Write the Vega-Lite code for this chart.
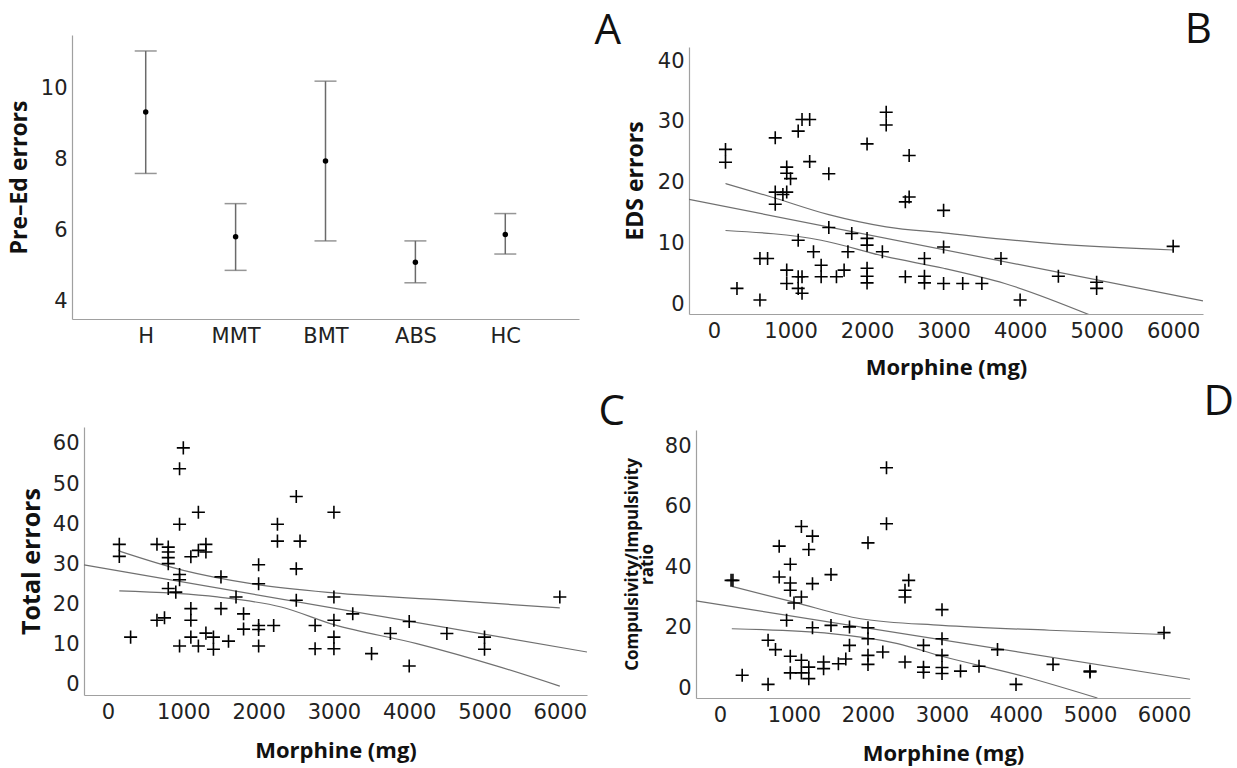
{
  "$schema": "https://vega.github.io/schema/vega-lite/v6.json",
  "padding": {"left": 8, "top": 9, "right": 5, "bottom": 5},
  "background": "white",
  "columns": 2,
  "bounds": "flush",
  "spacing": {"row": 108, "column": 102},
  "config": {
    "view": {"stroke": null},
    "axis": {
      "domainColor": "#a0a0a0", "domainWidth": 1.2, "ticks": false, "grid": false,
      "labelFont": "DejaVu Sans", "labelFontSize": 21, "labelColor": "#222", "labelPadding": 5,
      "titleFont": "Open Sans", "titleFontWeight": "bold", "titleFontSize": 23, "titleColor": "#111"
    },
    "title": {"font": "Open Sans", "fontSize": 42, "fontWeight": "normal", "color": "#111", "anchor": "end", "frame": "group", "baseline": "alphabetic", "offset": 0}
  },
  "datasets": {
    "groups": [
      {"group": "H", "mean": 9.33, "lower": 7.6, "upper": 11.05},
      {"group": "MMT", "mean": 5.82, "lower": 4.87, "upper": 6.75},
      {"group": "BMT", "mean": 7.95, "lower": 5.7, "upper": 10.2},
      {"group": "ABS", "mean": 5.1, "lower": 4.52, "upper": 5.7},
      {"group": "HC", "mean": 5.88, "lower": 5.33, "upper": 6.47}
    ],
    "eds": [
      {"morphine": 150, "value": 25.5}, {"morphine": 150, "value": 23.4}, {"morphine": 800, "value": 27.4},
      {"morphine": 1100, "value": 28.5}, {"morphine": 1150, "value": 30.4}, {"morphine": 1250, "value": 30.4},
      {"morphine": 2250, "value": 31.6}, {"morphine": 2250, "value": 29.5}, {"morphine": 2000, "value": 26.4},
      {"morphine": 1250, "value": 23.5}, {"morphine": 2550, "value": 24.5}, {"morphine": 1500, "value": 21.5},
      {"morphine": 950, "value": 22.6}, {"morphine": 950, "value": 21.6}, {"morphine": 1000, "value": 20.7},
      {"morphine": 800, "value": 18.5}, {"morphine": 900, "value": 18.1}, {"morphine": 950, "value": 18.5},
      {"morphine": 800, "value": 16.5}, {"morphine": 2550, "value": 17.7}, {"morphine": 2500, "value": 16.9},
      {"morphine": 3000, "value": 15.5}, {"morphine": 1500, "value": 12.7}, {"morphine": 1800, "value": 11.7},
      {"morphine": 2000, "value": 10.9}, {"morphine": 2000, "value": 9.8}, {"morphine": 2200, "value": 8.7},
      {"morphine": 1100, "value": 10.6}, {"morphine": 1300, "value": 8.7}, {"morphine": 1750, "value": 8.7},
      {"morphine": 3000, "value": 9.5}, {"morphine": 2750, "value": 7.6}, {"morphine": 600, "value": 7.6},
      {"morphine": 700, "value": 7.6}, {"morphine": 950, "value": 5.7}, {"morphine": 950, "value": 3.5},
      {"morphine": 1100, "value": 4.6}, {"morphine": 1150, "value": 4.6}, {"morphine": 1100, "value": 2.7},
      {"morphine": 1150, "value": 1.9}, {"morphine": 1400, "value": 6.5}, {"morphine": 1400, "value": 4.6},
      {"morphine": 1600, "value": 4.6}, {"morphine": 1700, "value": 5.7}, {"morphine": 2000, "value": 6.0},
      {"morphine": 2000, "value": 4.7}, {"morphine": 2000, "value": 3.6}, {"morphine": 2500, "value": 4.6},
      {"morphine": 2750, "value": 4.7}, {"morphine": 2750, "value": 3.6}, {"morphine": 3000, "value": 3.5},
      {"morphine": 300, "value": 2.7}, {"morphine": 600, "value": 0.8}, {"morphine": 3250, "value": 3.5},
      {"morphine": 3500, "value": 3.5}, {"morphine": 3750, "value": 7.6}, {"morphine": 4000, "value": 0.8},
      {"morphine": 4500, "value": 4.7}, {"morphine": 5000, "value": 3.7}, {"morphine": 5000, "value": 2.7},
      {"morphine": 6000, "value": 9.6}
    ],
    "eds_fit": [
      {"line": "fit", "morphine": -327, "value": 17.3}, {"line": "fit", "morphine": 6390, "value": 0.65},
      {"line": "upper", "morphine": 150, "value": 19.9}, {"line": "upper", "morphine": 750, "value": 17.7},
      {"line": "upper", "morphine": 1500, "value": 14.8}, {"line": "upper", "morphine": 2250, "value": 12.8},
      {"line": "upper", "morphine": 3000, "value": 11.8}, {"line": "upper", "morphine": 4450, "value": 10.0},
      {"line": "upper", "morphine": 6000, "value": 9.0},
      {"line": "lower", "morphine": 150, "value": 12.2}, {"line": "lower", "morphine": 1400, "value": 10.6},
      {"line": "lower", "morphine": 2250, "value": 7.9}, {"line": "lower", "morphine": 3000, "value": 6.0},
      {"line": "lower", "morphine": 3800, "value": 3.5}, {"line": "lower", "morphine": 4900, "value": -1.6}
    ],
    "total": [
      {"morphine": 1000, "value": 59.0}, {"morphine": 950, "value": 53.8}, {"morphine": 1200, "value": 43.0},
      {"morphine": 950, "value": 40.0}, {"morphine": 150, "value": 35.0}, {"morphine": 150, "value": 32.0},
      {"morphine": 650, "value": 35.0}, {"morphine": 800, "value": 34.3}, {"morphine": 800, "value": 33.1},
      {"morphine": 800, "value": 31.7}, {"morphine": 800, "value": 30.2}, {"morphine": 1100, "value": 31.9},
      {"morphine": 1200, "value": 33.5}, {"morphine": 1300, "value": 35.0}, {"morphine": 1300, "value": 33.1},
      {"morphine": 950, "value": 27.5}, {"morphine": 950, "value": 26.2}, {"morphine": 800, "value": 24.0},
      {"morphine": 900, "value": 23.1}, {"morphine": 1500, "value": 26.9}, {"morphine": 2000, "value": 29.9},
      {"morphine": 2000, "value": 25.2}, {"morphine": 2250, "value": 40.0}, {"morphine": 2250, "value": 35.8},
      {"morphine": 2500, "value": 46.9}, {"morphine": 2550, "value": 35.8}, {"morphine": 2500, "value": 28.9},
      {"morphine": 3000, "value": 43.0}, {"morphine": 2500, "value": 21.1}, {"morphine": 3000, "value": 21.9},
      {"morphine": 1700, "value": 21.9}, {"morphine": 1100, "value": 19.0}, {"morphine": 1500, "value": 19.0},
      {"morphine": 1800, "value": 17.7}, {"morphine": 650, "value": 16.1}, {"morphine": 750, "value": 16.7},
      {"morphine": 1100, "value": 16.1}, {"morphine": 2000, "value": 14.8}, {"morphine": 2000, "value": 13.8},
      {"morphine": 2200, "value": 14.8}, {"morphine": 1800, "value": 13.9}, {"morphine": 2750, "value": 14.8},
      {"morphine": 3000, "value": 16.1}, {"morphine": 300, "value": 11.9}, {"morphine": 950, "value": 9.7},
      {"morphine": 1100, "value": 11.9}, {"morphine": 1200, "value": 9.7}, {"morphine": 1300, "value": 12.9},
      {"morphine": 1400, "value": 11.9}, {"morphine": 1400, "value": 8.9}, {"morphine": 1600, "value": 10.9},
      {"morphine": 2000, "value": 9.7}, {"morphine": 2750, "value": 9.0}, {"morphine": 3000, "value": 11.9},
      {"morphine": 3000, "value": 9.0}, {"morphine": 3250, "value": 17.7}, {"morphine": 3500, "value": 7.8},
      {"morphine": 3750, "value": 12.8}, {"morphine": 4000, "value": 15.8}, {"morphine": 4000, "value": 4.7},
      {"morphine": 4500, "value": 12.8}, {"morphine": 5000, "value": 11.9}, {"morphine": 5000, "value": 8.9},
      {"morphine": 6000, "value": 21.9}
    ],
    "total_fit": [
      {"line": "fit", "morphine": -319, "value": 29.9}, {"line": "fit", "morphine": 6361, "value": 8.2},
      {"line": "upper", "morphine": 150, "value": 33.3}, {"line": "upper", "morphine": 1000, "value": 28.5},
      {"line": "upper", "morphine": 1900, "value": 25.2}, {"line": "upper", "morphine": 3000, "value": 22.9},
      {"line": "upper", "morphine": 4500, "value": 21.1}, {"line": "upper", "morphine": 6000, "value": 19.2},
      {"line": "lower", "morphine": 150, "value": 23.4}, {"line": "lower", "morphine": 1450, "value": 21.9},
      {"line": "lower", "morphine": 2300, "value": 19.4}, {"line": "lower", "morphine": 3000, "value": 15.0},
      {"line": "lower", "morphine": 4100, "value": 10.3}, {"line": "lower", "morphine": 5200, "value": 4.5},
      {"line": "lower", "morphine": 6000, "value": -0.3}
    ],
    "ratio": [
      {"morphine": 2250, "value": 72.8}, {"morphine": 2250, "value": 54.3}, {"morphine": 2000, "value": 48.0},
      {"morphine": 1100, "value": 53.4}, {"morphine": 1250, "value": 50.2}, {"morphine": 1200, "value": 45.8},
      {"morphine": 800, "value": 46.9}, {"morphine": 950, "value": 40.9}, {"morphine": 800, "value": 36.7},
      {"morphine": 950, "value": 34.7}, {"morphine": 950, "value": 32.3}, {"morphine": 1250, "value": 34.5},
      {"morphine": 1500, "value": 37.5}, {"morphine": 150, "value": 35.6}, {"morphine": 175, "value": 35.6},
      {"morphine": 1100, "value": 30.1}, {"morphine": 1000, "value": 28.1}, {"morphine": 2550, "value": 35.6},
      {"morphine": 2500, "value": 32.3}, {"morphine": 2500, "value": 30.1}, {"morphine": 3000, "value": 25.9},
      {"morphine": 900, "value": 22.4}, {"morphine": 1250, "value": 19.9}, {"morphine": 1500, "value": 20.7},
      {"morphine": 1750, "value": 20.2}, {"morphine": 2000, "value": 19.9}, {"morphine": 2000, "value": 16.3},
      {"morphine": 1750, "value": 14.1}, {"morphine": 2200, "value": 11.9}, {"morphine": 2000, "value": 10.8},
      {"morphine": 2000, "value": 7.8}, {"morphine": 2750, "value": 14.1}, {"morphine": 3000, "value": 16.3},
      {"morphine": 3000, "value": 10.8}, {"morphine": 650, "value": 15.8}, {"morphine": 750, "value": 12.7},
      {"morphine": 950, "value": 10.5}, {"morphine": 1100, "value": 9.2}, {"morphine": 1400, "value": 8.6},
      {"morphine": 1600, "value": 8.0}, {"morphine": 1700, "value": 9.6}, {"morphine": 1200, "value": 6.9},
      {"morphine": 950, "value": 5.0}, {"morphine": 1100, "value": 5.0}, {"morphine": 1200, "value": 3.1},
      {"morphine": 1400, "value": 6.4}, {"morphine": 2500, "value": 8.6}, {"morphine": 2750, "value": 6.9},
      {"morphine": 2750, "value": 5.2}, {"morphine": 3000, "value": 6.8}, {"morphine": 3000, "value": 4.8},
      {"morphine": 300, "value": 4.2}, {"morphine": 650, "value": 1.2}, {"morphine": 3250, "value": 5.6},
      {"morphine": 3500, "value": 7.2}, {"morphine": 3750, "value": 12.7}, {"morphine": 4000, "value": 1.2},
      {"morphine": 4500, "value": 7.8}, {"morphine": 5000, "value": 5.3}, {"morphine": 5000, "value": 5.6},
      {"morphine": 6000, "value": 18.3}
    ],
    "ratio_fit": [
      {"line": "fit", "morphine": -324, "value": 28.8}, {"line": "fit", "morphine": 6351, "value": 2.9},
      {"line": "upper", "morphine": 160, "value": 33.6}, {"line": "upper", "morphine": 1000, "value": 28.4},
      {"line": "upper", "morphine": 1900, "value": 22.9}, {"line": "upper", "morphine": 3000, "value": 20.7},
      {"line": "upper", "morphine": 4450, "value": 19.1}, {"line": "upper", "morphine": 6000, "value": 17.7},
      {"line": "lower", "morphine": 160, "value": 19.6}, {"line": "lower", "morphine": 1500, "value": 18.0},
      {"line": "lower", "morphine": 2400, "value": 14.7}, {"line": "lower", "morphine": 3000, "value": 10.5},
      {"line": "lower", "morphine": 4100, "value": 3.9}, {"line": "lower", "morphine": 5100, "value": -3.3}
    ]
  },
  "concat": [
    {
      "width": 507, "height": 284,
      "title": {"text": "A", "dx": 42, "dy": 22},
      "data": {"name": "groups"},
      "encoding": {
        "x": {"field": "group", "type": "nominal", "sort": null,
              "scale": {"type": "point", "padding": 0.82},
              "axis": {"title": null, "labelAngle": 0, "labelPadding": 6}}
      },
      "layer": [
        {"mark": {"type": "rule", "color": "#6a6a6a", "strokeWidth": 1.5},
         "encoding": {"y": {"field": "lower", "type": "quantitative",
                            "scale": {"domain": [3.5, 11.5], "nice": false, "zero": false},
                            "axis": {"values": [4, 6, 8, 10], "title": "Pre–Ed errors", "titlePadding": 9}},
                      "y2": {"field": "upper"}}},
        {"mark": {"type": "tick", "color": "#6a6a6a", "thickness": 1.5, "size": 22},
         "encoding": {"y": {"field": "upper", "type": "quantitative"}}},
        {"mark": {"type": "tick", "color": "#6a6a6a", "thickness": 1.5, "size": 22},
         "encoding": {"y": {"field": "lower", "type": "quantitative"}}},
        {"mark": {"type": "point", "filled": true, "color": "#000", "size": 30, "opacity": 1},
         "encoding": {"y": {"field": "mean", "type": "quantitative"}}}
      ]
    },
    {
      "width": 514, "height": 279,
      "title": {"text": "B", "dx": 9, "dy": 21},
      "layer": [
        {"data": {"name": "eds_fit"},
         "mark": {"type": "line", "color": "#707070", "strokeWidth": 1.2, "interpolate": "monotone", "clip": true},
         "encoding": {
           "x": {"field": "morphine", "type": "quantitative",
                 "scale": {"domain": [-327, 6390], "nice": false, "zero": false},
                 "axis": {"values": [0, 1000, 2000, 3000, 4000, 5000, 6000], "format": "d", "title": "Morphine (mg)", "titleFontSize": 22, "labelPadding": 6, "titlePadding": 16}},
           "y": {"field": "value", "type": "quantitative",
                 "scale": {"domain": [-1.5, 42.3], "nice": false, "zero": false, "range": [279, 12]},
                 "axis": {"values": [0, 10, 20, 30, 40], "title": "EDS errors", "titlePadding": 10}},
           "detail": {"field": "line"}
         }},
        {"data": {"name": "eds"},
         "mark": {"type": "point", "shape": "M-1,0L1,0M0,-1L0,1", "filled": false, "stroke": "#000", "strokeWidth": 1.6, "size": 170, "opacity": 1},
         "encoding": {
           "x": {"field": "morphine", "type": "quantitative"},
           "y": {"field": "value", "type": "quantitative"}
         }}
      ]
    },
    {
      "width": 515, "height": 268,
      "title": {"text": "C", "dx": 38, "dy": 11},
      "layer": [
        {"data": {"name": "total_fit"},
         "mark": {"type": "line", "color": "#707070", "strokeWidth": 1.2, "interpolate": "monotone", "clip": true},
         "encoding": {
           "x": {"field": "morphine", "type": "quantitative",
                 "scale": {"domain": [-319, 6361], "nice": false, "zero": false, "range": [12, 515]},
                 "axis": {"values": [0, 1000, 2000, 3000, 4000, 5000, 6000], "format": "d", "title": "Morphine (mg)", "titleFontSize": 22, "labelPadding": 6, "titlePadding": 18}},
           "y": {"field": "value", "type": "quantitative",
                 "scale": {"domain": [-2.5, 64.2], "nice": false, "zero": false},
                 "axis": {"values": [0, 10, 20, 30, 40, 50, 60], "title": "Total errors", "titleFontSize": 25, "titlePadding": 8, "offset": -12}},
           "detail": {"field": "line"}
         }},
        {"data": {"name": "total"},
         "mark": {"type": "point", "shape": "M-1,0L1,0M0,-1L0,1", "filled": false, "stroke": "#000", "strokeWidth": 1.6, "size": 170, "opacity": 1},
         "encoding": {
           "x": {"field": "morphine", "type": "quantitative"},
           "y": {"field": "value", "type": "quantitative"}
         }}
      ]
    },
    {
      "width": 501, "height": 271,
      "title": {"text": "D", "dx": 44, "dy": 1},
      "layer": [
        {"data": {"name": "ratio_fit"},
         "mark": {"type": "line", "color": "#707070", "strokeWidth": 1.2, "interpolate": "monotone", "clip": true},
         "encoding": {
           "x": {"field": "morphine", "type": "quantitative",
                 "scale": {"domain": [-324, 6351], "nice": false, "zero": false, "range": [7, 501]},
                 "axis": {"values": [0, 1000, 2000, 3000, 4000, 5000, 6000], "format": "d", "title": "Morphine (mg)", "titleFontSize": 22, "labelPadding": 6, "titlePadding": 18}},
           "y": {"field": "value", "type": "quantitative",
                 "scale": {"domain": [-3.3, 85.3], "nice": false, "zero": false, "range": [271, 3]},
                 "axis": {"values": [0, 20, 40, 60, 80], "title": ["Compulsivity/Impulsivity", "ratio"], "titleFontSize": 17, "titleLineHeight": 15, "titlePadding": 8, "offset": -7}},
           "detail": {"field": "line"}
         }},
        {"data": {"name": "ratio"},
         "mark": {"type": "point", "shape": "M-1,0L1,0M0,-1L0,1", "filled": false, "stroke": "#000", "strokeWidth": 1.6, "size": 170, "opacity": 1},
         "encoding": {
           "x": {"field": "morphine", "type": "quantitative"},
           "y": {"field": "value", "type": "quantitative"}
         }}
      ]
    }
  ]
}
